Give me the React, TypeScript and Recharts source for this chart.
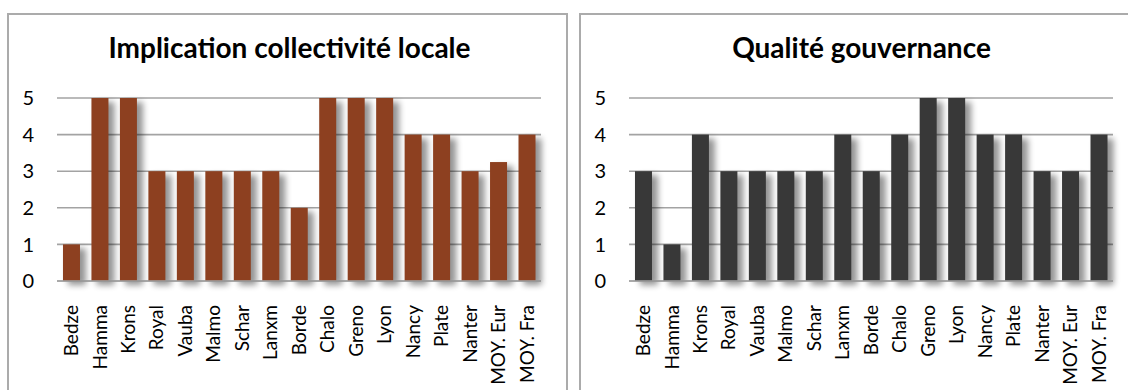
import { BarChart, Bar, XAxis, YAxis, CartesianGrid } from 'recharts';

const cities = ['Bedze', 'Hamma', 'Krons', 'Royal', 'Vauba', 'Malmo', 'Schar', 'Lanxm', 'Borde', 'Chalo', 'Greno', 'Lyon', 'Nancy', 'Plate', 'Nanter', 'MOY. Eur', 'MOY. Fra'];
const implicationValues = [1, 5, 5, 3, 3, 3, 3, 3, 2, 5, 5, 5, 4, 4, 3, 3.25, 4];
const gouvernanceValues = [3, 1, 4, 3, 3, 3, 3, 4, 3, 4, 5, 5, 4, 4, 3, 3, 4];
const yTicks = [0, 1, 2, 3, 4, 5];

const FONT = 'Lato, "Open Sans", sans-serif';
const PANEL_W = 561;
const PANEL_H = 377;

const ShadowBar = (props: any) => {
  const { x, y, width, height, fill } = props;
  if (!height) return null;
  return (
    <g>
      <rect x={x + 5} y={y + 4} width={width + 1} height={height} fill="#000" opacity={0.42} filter="url(#barShadow)" />
      <rect x={x} y={y} width={width} height={height} fill={fill} />
    </g>
  );
};

const CityTick = (props: any) => {
  const { x, y, payload } = props;
  return (
    <text
      x={x}
      y={y + 16}
      dy="0.36em"
      transform={`rotate(-90, ${x}, ${y + 16})`}
      textAnchor="end"
      fontFamily={FONT}
      fontSize={19}
      fill="#000"
    >
      {payload.value}
    </text>
  );
};

function Panel({ left, title, values, color }: { left: number; title: string; values: number[]; color: string }) {
  const data = cities.map((c, i) => ({ city: c, value: values[i] }));
  return (
    <div style={{ position: 'absolute', left, top: 13, width: PANEL_W, height: PANEL_H }}>
      <BarChart
        width={PANEL_W}
        height={PANEL_H}
        data={data}
        margin={{ top: 85, right: 27, bottom: 9, left: 0 }}
        barCategoryGap="21%"
      >
        <CartesianGrid vertical={false} stroke="#a3a3a3" strokeWidth={1.6} />
        <XAxis
          dataKey="city"
          interval={0}
          height={100}
          axisLine={{ stroke: '#a3a3a3', strokeWidth: 1.6 }}
          tickLine={false}
          tick={<CityTick />}
        />
        <YAxis
          width={50}
          domain={[0, 5]}
          ticks={yTicks}
          axisLine={false}
          tickLine={false}
          tickMargin={17}
          tick={{ fontFamily: FONT, fontSize: 20, fill: '#000' }}
        />
        <Bar dataKey="value" fill={color} shape={<ShadowBar />} isAnimationActive={false} />
      </BarChart>
      <div
        style={{
          position: 'absolute',
          left: 0,
          top: 0,
          right: 0,
          bottom: 0,
          borderTop: '2px solid #ababab',
          borderLeft: '2px solid #ababab',
          borderRight: '2px solid #ababab',
          pointerEvents: 'none',
        }}
      />
      <div
        style={{
          position: 'absolute',
          left: 2,
          top: 17,
          width: PANEL_W,
          textAlign: 'center',
          fontFamily: FONT,
          fontWeight: 700,
          fontSize: 28,
          lineHeight: 'normal',
          color: '#000',
          whiteSpace: 'nowrap',
        }}
      >
        {title}
      </div>
    </div>
  );
}

export default function App() {
  return (
    <div style={{ position: 'absolute', left: 0, top: 0, width: 1128, height: 390, overflow: 'hidden', background: '#fff' }}>
      <svg width={0} height={0} style={{ position: 'absolute' }}>
        <defs>
          <filter id="barShadow" x="-50%" y="-20%" width="200%" height="140%">
            <feGaussianBlur stdDeviation="3" />
          </filter>
        </defs>
      </svg>
      <Panel left={7} title="Implication collectivité locale" values={implicationValues} color="#8d4020" />
      <Panel left={579} title="Qualité gouvernance" values={gouvernanceValues} color="#383838" />
    </div>
  );
}
